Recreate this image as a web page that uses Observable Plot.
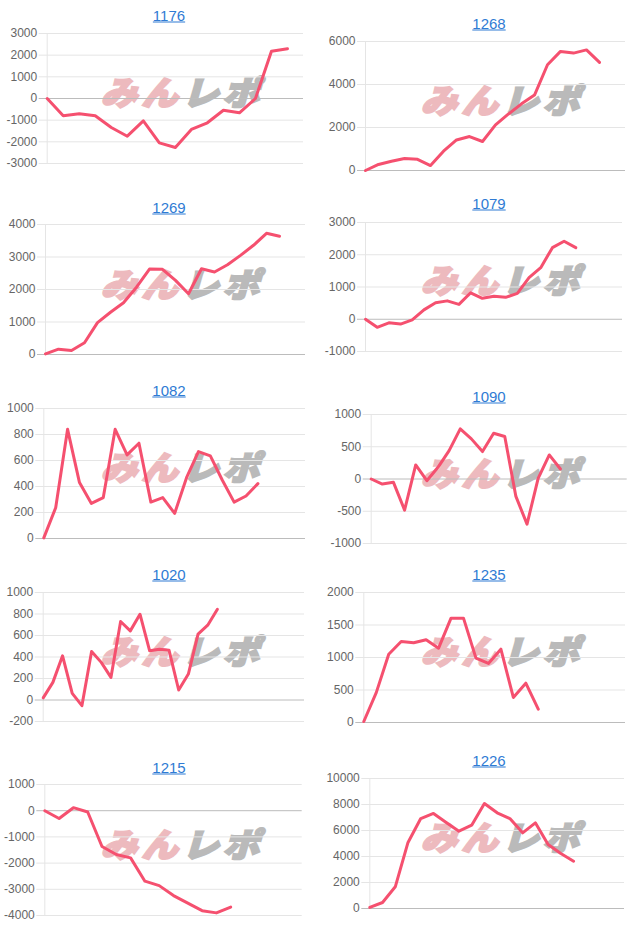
<!DOCTYPE html>
<html><head><meta charset="utf-8">
<script src="https://cdn.jsdelivr.net/npm/d3@7"></script>
<script src="https://cdn.jsdelivr.net/npm/@observablehq/plot@0.6"></script>
<style>
body{margin:0;background:#fff;}
#root{position:relative;width:640px;height:931px;overflow:hidden;font-family:"Liberation Sans",Arial,sans-serif;}
.title{position:absolute;transform:translate(-50%,-50%);font-size:15px;color:#2f7bd4;text-decoration:underline;white-space:nowrap;line-height:1;z-index:2;}
.wm{position:absolute;transform:translate(-50%,-50%) skewX(-16deg) scaleX(1.1);font-family:"Noto Sans CJK JP";font-weight:900;font-size:33px;letter-spacing:4px;white-space:nowrap;line-height:1;z-index:0;opacity:0.8;}
.wm .a{color:#e9a9ae;-webkit-text-stroke:2.2px #e9a9ae;}
.wm .b{color:#a9a9a9;-webkit-text-stroke:2.2px #a9a9a9;}
.chart{position:absolute;z-index:1;}
.chart svg{background:transparent;}
</style></head><body><div id="root"></div>
<script>
// ---- data ----
const titles = ["1176","1268","1269","1079","1082","1090","1020","1235","1215","1226"];
const slotCounts = [17,21,21,23,23,24,28,22,19,21];
const values1176 = [0,-800,-700,-800,-1340,-1740,-1030,-2050,-2260,-1430,-1120,-540,-660,0,2180,2300];
const values1268 = [0,280,430,560,520,230,900,1420,1580,1350,2120,2630,3100,3510,4920,5540,5460,5610,5030];
const values1269 = [20,165,125,360,980,1300,1590,2070,2630,2620,2280,1870,2640,2540,2760,3050,3360,3730,3640];
const values1079 = [0,-250,-110,-150,-20,290,510,570,460,820,650,710,680,800,1290,1600,2220,2420,2220];
const values1082 = [5,237,840,430,270,315,840,643,733,280,315,193,468,668,635,450,280,327,422];
const values1090 = [0,-78,-52,-482,218,-26,181,440,777,622,425,710,658,-270,-700,10,373,155];
const values1020 = [20,164,411,62,-53,452,350,210,730,643,798,458,473,464,93,241,612,696,844];
const values1235 = [15,460,1050,1246,1226,1272,1144,1605,1605,990,908,1128,385,605,205];
const values1215 = [0,-300,115,-50,-1365,-1670,-1800,-2690,-2860,-3240,-3530,-3815,-3900,-3680];
const values1226 = [80,460,1670,5080,6920,7310,6620,5950,6410,8080,7360,6920,5820,6590,4920,4230,3640];
const ticks1176 = [-3000,-2000,-1000,0,1000,2000,3000];
const ticks1268 = [0,2000,4000,6000];
const ticks1269 = [0,1000,2000,3000,4000];
const ticks1079 = [-1000,0,1000,2000,3000];
const ticks1082 = [0,200,400,600,800,1000];
const ticks1090 = [-1000,-500,0,500,1000];
const ticks1020 = [-200,0,200,400,600,800,1000];
const ticks1235 = [0,500,1000,1500,2000];
const ticks1215 = [-4000,-3000,-2000,-1000,0,1000];
const ticks1226 = [0,2000,4000,6000,8000,10000];
const watermarkA = "みん";
const watermarkB = "レポ";

const seriesValues = [values1176,values1268,values1269,values1079,values1082,values1090,values1020,values1235,values1215,values1226];
const seriesTicks = [ticks1176,ticks1268,ticks1269,ticks1079,ticks1082,ticks1090,ticks1020,ticks1235,ticks1215,ticks1226];

// ---- layout (page pixels) ----
const layout = [
  {cell:0,   top:33.3,  bottom:163.3, left:46.7,  right:303,   title:15},
  {cell:320, top:40.7,  bottom:170,   left:365,   right:625,   title:22.7},
  {cell:0,   top:224.3, bottom:354,   left:45,    right:305,   title:207},
  {cell:320, top:222.3, bottom:351,   left:365,   right:622,   title:203},
  {cell:0,   top:407.7, bottom:537.3, left:43.3,  right:305,   title:390},
  {cell:320, top:414,   bottom:542.7, left:370.7, right:626.7, title:395.7},
  {cell:0,   top:591.7, bottom:721,   left:42.7,  right:304,   title:574},
  {cell:320, top:591.7, bottom:721.7, left:363.3, right:625,   title:574},
  {cell:0,   top:784.3, bottom:915,   left:44.3,  right:301.7, title:766.7},
  {cell:320, top:778.3, bottom:908.3, left:369.3, right:624,   title:760}
];

const root = document.getElementById("root");
const PAD = 10;
layout.forEach((L, k) => {
  const vals = seriesValues[k];
  const ticks = seriesTicks[k];
  const t = document.createElement("div");
  t.className = "title";
  t.textContent = titles[k];
  t.style.left = (L.cell + 169) + "px";
  t.style.top = L.title + "px";
  root.appendChild(t);
  const w = document.createElement("div");
  w.className = "wm";
  w.innerHTML = `<span class="a">${watermarkA}</span><span class="b">${watermarkB}</span>`;
  w.style.left = (L.cell + 186) + "px";
  w.style.top = (L.title + 76) + "px";
  root.appendChild(w);
  const h = Math.round(L.bottom - L.top + 2 * PAD);
  const chart = Plot.plot({
    width: 320,
    height: h,
    marginTop: PAD,
    marginBottom: PAD,
    marginLeft: L.left - L.cell,
    marginRight: L.cell + 320 - L.right,
    style: {background: "transparent", fontFamily: "Liberation Sans, Arial, sans-serif"},
    x: {domain: [0, slotCounts[k] - 1], axis: null},
    y: {domain: [d3.min(ticks), d3.max(ticks)], axis: null},
    marks: [
      Plot.ruleY(ticks.filter(v => v !== 0), {stroke: "#e5e5e5", strokeWidth: 1, insetLeft: -8}),
      Plot.ruleX([0], {stroke: "#e5e5e5", strokeWidth: 1}),
      Plot.ruleY(ticks.filter(v => v === 0), {stroke: "#bcbcbc", strokeWidth: 1, insetLeft: -8}),
      Plot.axisY({ticks: ticks, tickSize: 0, tickPadding: 10, fontSize: 12, fill: "#666", tickFormat: d => String(d)}),
      Plot.lineY(vals, {x: (d, i) => i, y: d => d, stroke: "#f5506f", strokeWidth: 3, strokeLinejoin: "round", strokeLinecap: "round"})
    ]
  });
  const holder = document.createElement("div");
  holder.className = "chart";
  holder.style.left = L.cell + "px";
  holder.style.top = (L.top - PAD) + "px";
  holder.appendChild(chart);
  root.appendChild(holder);
});
</script>
</body></html>
